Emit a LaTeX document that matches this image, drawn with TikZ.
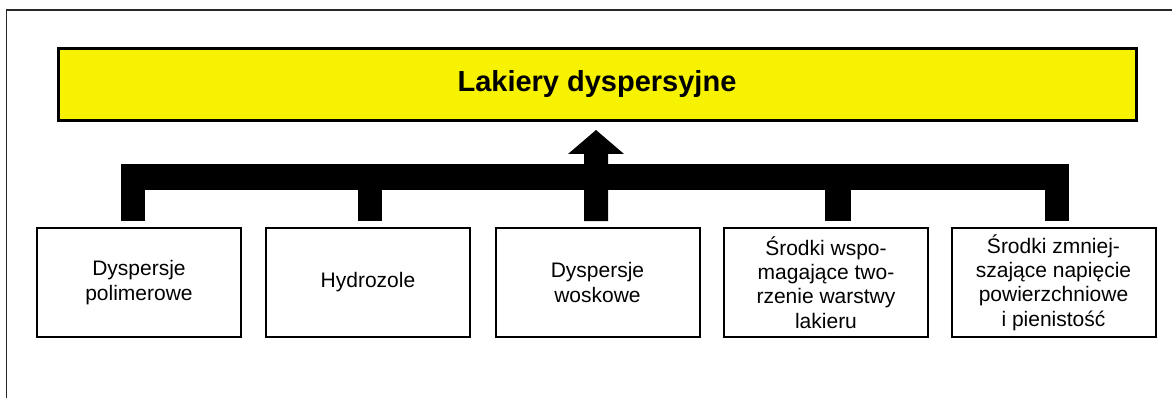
\documentclass[tikz,border=0pt]{standalone}
\usepackage{fontspec}
\setmainfont{Liberation Sans}
\definecolor{titleyellow}{RGB}{247,242,0}
\definecolor{framegray}{RGB}{40,40,40}
\begin{document}
\begin{tikzpicture}[x=1pt,y=-1pt,
  box/.style={draw=black,line width=2pt,fill=white,minimum width=204pt,minimum height=109pt,
    align=center,inner sep=0pt,font=\fontsize{21}{24.3}\selectfont},
  titlebox/.style={draw=black,line width=3pt,fill=titleyellow,minimum width=1078pt,minimum height=72pt,
    inner sep=0pt,font=\fontsize{29}{34}\selectfont\bfseries},
  barfill/.style={fill=black,draw=none}]
\useasboundingbox (0,0) rectangle (1172,398);
% outer frame (extends beyond the picture on right and bottom)
\draw[framegray,line width=1.5pt] (6.5,400) -- (6.5,10) -- (1175,10);
% title
\node[titlebox] (title) at (597,84.5) {Lakiery dyspersyjne};
% boxes
\node[box] (b1) at (139,282.5) {Dyspersje\\polimerowe};
\node[box] (b2) at (368,282.5) {Hydrozole};
\node[box] (b3) at (597.5,282.5) {Dyspersje\\woskowe};
\node[box] (b4) at (826,282.5) {\raisebox{-3pt}{\parbox{200pt}{\centering Środki wspo-\\magające two-\\rzenie warstwy\\lakieru}}};
\node[box] (b5) at (1053.5,282.5) {Środki zmniej-\\szające napięcie\\powierzchniowe\\i pienistość};
% connector geometry
\coordinate (tip) at (596,130);
\coordinate (barL) at (121,164);
\coordinate (barR) at (1069,190);
% horizontal bar
\fill[barfill] (barL) rectangle (barR);
% stubs down to the boxes
\fill[barfill] (121,190) rectangle (145,221);
\fill[barfill] (358,190) rectangle (382,221);
\fill[barfill] (825,190) rectangle (851,221);
\fill[barfill] (1045,190) rectangle (1069,221);
% upward arrow from middle box to title
\fill[barfill] (584,221) -- (584,154) -- (568,154) -- (tip) -- (624,154) -- (608,154) -- (608,221) -- cycle;
\end{tikzpicture}
\end{document}
